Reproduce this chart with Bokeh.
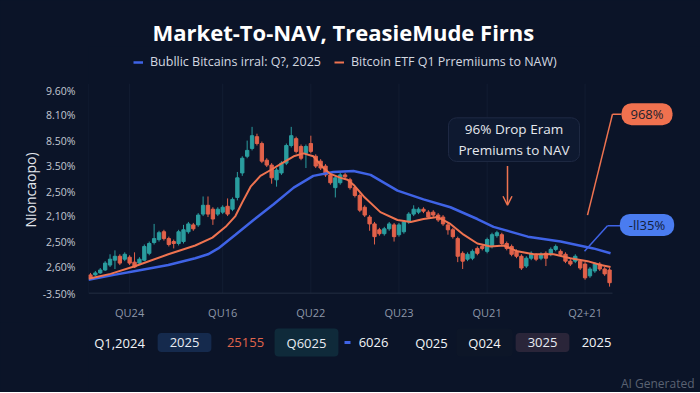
from bokeh.plotting import figure
from bokeh.layouts import column
from bokeh.models import (Range1d, FixedTicker, Label, Arrow, OpenHead, Legend,
                          LegendItem, ColumnDataSource, Title)
from bokeh.embed import file_html
from bokeh.resources import INLINE

# ---------------- data ----------------
opens = [1.9, 1.9, 2.1, 2.4, 2.9, 3.4, 3.8, 3.5, 3.7, 3.2, 3.1, 3.4, 4.1, 5.2, 5.5, 6.3, 5.6, 5.3, 5.1, 5.3,
         6.3, 7.0, 7.0, 8.1, 9.0, 8.6, 8.1, 8.3, 8.9, 8.6, 9.8, 12.3, 14.0, 14.8, 16.0, 15.3, 13.6, 13.1, 11.6, 12.3,
         13.3, 15.1, 15.8, 15.0, 14.3, 15.3, 14.0, 13.5, 13.0, 12.1, 10.8, 11.3, 12.1, 11.6, 10.8, 10.0, 8.8, 7.8, 7.1, 6.5,
         6.1, 6.6, 7.0, 6.0, 6.3, 7.3, 8.1, 8.3, 8.6, 8.3, 8.3, 8.0, 7.8, 7.0, 6.5, 5.6, 4.1, 3.5, 3.6, 4.6,
         4.8, 4.3, 4.8, 5.9, 6.0, 5.1, 4.8, 4.3, 3.8, 2.8, 3.6, 3.9, 3.6, 4.1, 4.0, 4.5, 4.3, 4.0, 3.3, 3.3,
         3.3, 3.0, 1.8, 2.3, 3.0, 2.5, 2.4]
closes = [1.6, 2.1, 2.4, 3.1, 3.5, 3.8, 3.1, 4.0, 3.1, 2.7, 3.5, 4.8, 5.1, 5.6, 6.2, 5.6, 5.0, 5.1, 6.3, 6.5,
          7.1, 6.6, 8.0, 9.0, 8.1, 7.6, 8.6, 8.8, 8.1, 9.6, 11.8, 13.8, 14.6, 16.1, 15.3, 13.5, 13.1, 11.8, 12.6, 13.3,
          15.1, 16.1, 14.5, 13.8, 15.0, 14.5, 13.0, 12.8, 12.1, 11.3, 11.8, 12.1, 11.9, 10.8, 10.0, 8.5, 8.0, 7.1, 5.8, 6.1,
          6.6, 7.1, 5.8, 7.0, 7.3, 8.1, 8.6, 8.6, 8.4, 7.8, 8.0, 7.5, 7.1, 6.5, 5.8, 3.8, 3.3, 4.0, 4.3, 4.1,
          4.6, 5.5, 6.0, 6.2, 5.1, 4.6, 4.0, 3.8, 2.6, 3.6, 4.1, 3.5, 4.0, 3.6, 4.5, 4.8, 4.0, 3.3, 3.0, 3.8,
          2.6, 1.6, 2.5, 3.0, 2.5, 2.0, 1.1]
highs = [2.1, 2.3, 2.6, 3.3, 4.0, 4.4, 4.0, 4.2, 3.9, 4.2, 3.7, 5.0, 5.3, 7.1, 6.4, 6.5, 5.8, 5.5, 6.5, 7.0,
         7.3, 7.2, 8.2, 9.9, 9.9, 8.8, 8.8, 9.0, 9.7, 9.8, 12.4, 14.0, 15.6, 17.0, 16.3, 15.5, 13.8, 13.3, 12.8, 13.5,
         15.3, 17.0, 16.0, 15.2, 15.2, 16.1, 14.2, 13.7, 13.2, 12.3, 12.0, 12.3, 12.3, 11.8, 11.0, 10.2, 9.0, 8.0, 7.3, 6.7,
         6.8, 7.3, 7.2, 7.2, 7.5, 8.3, 9.0, 8.8, 8.8, 8.5, 8.5, 8.2, 8.0, 7.2, 6.7, 5.8, 4.3, 4.2, 4.5, 4.8,
         5.0, 5.7, 6.2, 6.4, 6.2, 5.3, 5.0, 4.5, 4.0, 3.8, 4.3, 4.1, 4.2, 4.3, 4.7, 5.0, 4.5, 4.2, 3.5, 4.0,
         3.5, 3.2, 2.7, 3.2, 3.2, 2.7, 2.6]
lows = [1.4, 1.8, 2.0, 2.3, 2.7, 2.5, 2.9, 3.3, 2.9, 2.6, 2.9, 3.3, 3.9, 5.0, 5.3, 5.4, 4.8, 4.6, 4.9, 5.1,
        6.1, 6.4, 6.8, 7.9, 7.8, 7.0, 7.9, 8.1, 7.9, 8.4, 9.5, 12.0, 13.8, 14.6, 15.1, 13.3, 12.9, 11.2, 10.9, 12.1,
        13.1, 14.9, 14.3, 13.6, 12.8, 14.3, 12.8, 12.6, 11.9, 11.1, 9.8, 11.1, 11.7, 10.6, 9.8, 8.3, 7.8, 6.4, 5.0, 5.9,
        5.9, 6.4, 5.3, 5.8, 6.1, 7.1, 7.9, 8.1, 8.2, 7.6, 7.8, 7.3, 6.9, 6.0, 5.6, 3.2, 2.5, 3.3, 3.4, 3.9,
        4.4, 4.1, 4.6, 5.7, 4.9, 4.4, 3.8, 3.6, 2.4, 2.6, 3.4, 3.3, 3.4, 2.8, 3.8, 4.3, 3.8, 3.1, 2.8, 3.1,
        2.4, 1.4, 1.6, 2.1, 2.3, 1.8, 0.7]

etf_x = [-0.4, 4.1, 9.2, 15.9, 21.4, 24.9, 27.6, 29.6, 31.0, 32.7, 34.7, 36.8, 38.8, 41.5, 43.5, 45.5, 47.6, 49.0,
         51.1, 52.5, 53.7, 55.8, 59.2, 62.7, 65.4, 68.0, 70.9, 73.5, 76.2, 79.0, 81.7, 84.4, 87.2, 90.5, 94.6, 98.0,
         101.5, 104.2, 106.2]
etf_y = [1.5, 2.0, 2.8, 4.0, 4.9, 5.7, 6.8, 7.9, 9.3, 10.9, 12.0, 12.6, 13.2, 14.0, 14.3, 14.0, 12.8, 12.2,
         11.8, 11.6, 11.1, 9.9, 8.3, 7.5, 7.3, 7.6, 7.8, 7.1, 6.0, 5.1, 4.8, 4.9, 4.3, 4.0, 4.0, 3.6,
         3.3, 2.9, 2.7]
public_x = [-0.4, 4.8, 9.2, 15.9, 21.4, 24.0, 26.1, 29.6, 33.3, 37.4, 41.5, 45.5, 49.6, 53.7, 57.2, 62.7, 68.0,
            73.5, 79.0, 82.3, 89.3, 96.0, 102.7, 106.2]
public_y = [1.4, 1.9, 2.3, 2.9, 3.6, 4.0, 4.6, 6.0, 7.5, 9.1, 10.8, 12.0, 12.4, 12.5, 12.1, 10.5, 9.6,
            8.8, 7.6, 6.8, 5.8, 5.3, 4.6, 4.1]

y_tick_values = [0.0, 2.7, 5.3, 7.9, 10.4, 13.0, 15.6, 18.2, 20.7]
y_tick_labels = ["-3.50%", "2,60%", "2,50%", "2,10%", "2,50%", "3.50%", "8.50%", "8.10%", "9.60%"]
x_tick_values = [8, 27, 45, 63, 81, 101]
x_tick_labels = ["QU24", "QU16", "QU22", "QU23", "QU21", "Q2+21"]

period_labels = ["Q1,2024", "2025", "25155", "Q6025", "6026", "Q025", "Q024", "3025", "2025"]

title_text = "Market-To-NAV, TreasieMude Firns"
public_name = "Bubllic Bitcains irral: Q?, 2025"
etf_name = "Bitcoin ETF Q1 Prremiiums to NAW)"
y_title = "Nioncaopo)"
callout_text = "96% Drop Eram\nPremiums to NAV"
etf_badge = "968%"
public_badge = "-ll35%"

# ---------------- style / layout ----------------
BG = "#0b1428"
TEAL = "#2a9d9f"
RED = "#e1614a"
ORANGE = "#ef7350"
BLUE = "#3f63e6"
FONT = "Open Sans"

W = 700
H_MAIN, H_ROW = 322, 70
FL, FR, FT, FB = 88, 612, 46, 298      # data frame (left/right of data, top of panel, axis line) in page px
X0, X1 = -0.4, 106.6                   # data x at FL .. FR


def X(px):
    return X0 + (px - FL) * (X1 - X0) / (FR - FL)


def Y(py):
    return (FB - py) / 10.0


xr = Range1d(X0, X(W))
p = figure(width=W, height=H_MAIN, x_range=xr, y_range=Range1d(Y(FB), Y(FT)),
           output_backend="svg", toolbar_location=None,
           background_fill_color=None, border_fill_color=BG, outline_line_color=None,
           min_border_left=FL, min_border_right=0,
           min_border_top=FT, min_border_bottom=H_MAIN - FB)

# faint grid + axis base line
p.segment(x0=[X(FL)] + x_tick_values, y0=0, x1=[X(FL)] + x_tick_values, y1=Y(84),
          line_color="#131d32", line_width=1)
p.segment(x0=X(FL), y0=0, x1=X(FR), y1=0, line_color="#2b3548", line_width=1.5)

# candles
idx = list(range(len(opens)))
src = ColumnDataSource(dict(
    x=idx,
    top=[max(o, c) for o, c in zip(opens, closes)],
    bottom=[min(o, c) for o, c in zip(opens, closes)],
    high=highs, low=lows,
    color=[TEAL if c >= o else RED for o, c in zip(opens, closes)],
))
p.segment(x0="x", y0="low", x1="x", y1="high", line_color="color", line_width=1, source=src)
p.vbar(x="x", width=0.68, top="top", bottom="bottom", fill_color="color", line_color="color", source=src)

blue_r = p.line(public_x, public_y, line_color=BLUE, line_width=2.5)
orange_r = p.line(etf_x, etf_y, line_color=ORANGE, line_width=2)

# title
p.title.text = title_text
p.title.align = "left"
p.title.offset = 152 - FL
p.title.text_font = FONT
p.title.text_font_size = "22px"
p.title.text_font_style = "bold"
p.title.text_color = "#ffffff"
p.title.standoff = 0

legend = Legend(items=[LegendItem(label=public_name, renderers=[blue_r]),
                       LegendItem(label=etf_name, renderers=[orange_r])],
                orientation="horizontal", location=(45, FB - 75),
                background_fill_alpha=0, border_line_alpha=0,
                label_text_color="#d3d8e0", label_text_font=FONT, label_text_font_size="12.5px",
                glyph_width=10, glyph_height=14, label_height=14, label_standoff=7,
                spacing=13, padding=0, margin=0)
p.add_layout(legend)

# axes
p.xaxis.ticker = FixedTicker(ticks=x_tick_values)
p.xaxis.major_label_overrides = dict(zip(x_tick_values, x_tick_labels))
p.yaxis.ticker = FixedTicker(ticks=y_tick_values)
p.yaxis.major_label_overrides = dict(zip(y_tick_values, y_tick_labels))
for ax in (p.xaxis[0], p.yaxis[0]):
    ax.major_tick_line_color = None
    ax.minor_tick_line_color = None
    ax.axis_line_color = None
    ax.major_label_text_font = FONT
p.xaxis.major_label_text_font_size = "11px"
p.xaxis.major_label_text_color = "#8e97a8"
p.xaxis.major_label_standoff = 5
p.yaxis.major_label_text_font_size = "10.5px"
p.yaxis.major_label_text_color = "#c3c8d2"
p.yaxis.major_label_standoff = 7
p.grid.grid_line_color = None

# y-axis title (placed in the left side panel, next to the tick labels)
p.add_layout(Title(text=y_title, align="left", offset=FB - 232, standoff=0,
                   text_font=FONT, text_font_size="14px", text_font_style="normal",
                   text_color="#e3e6ec"), "left")

# callout box and arrow
p.add_layout(Label(x=X(513.5), y=Y(141), text=callout_text, text_align="center", text_baseline="middle",
                   text_font=FONT, text_font_size="13.5px", text_color="#e5e8ee",
                   background_fill_color="#0e1930", border_line_color="#1f2a44", border_line_width=1,
                   border_radius=8, padding=dict(x=10, y=2)))
p.add_layout(Arrow(end=OpenHead(size=9, line_color=ORANGE, line_width=1.5),
                   x_start=X(507), y_start=Y(168), x_end=X(507), y_end=Y(208),
                   line_color=ORANGE, line_width=1.5))

# leader lines + badges
for (a, b), col in [(((587, 218), (612, 115)), ORANGE), (((612, 115), (621, 115)), ORANGE),
                    (((584, 255), (607, 229)), BLUE), (((607, 229), (621, 229)), BLUE)]:
    p.add_layout(Arrow(end=None, x_start=X(a[0]), y_start=Y(a[1]), x_end=X(b[0]), y_end=Y(b[1]),
                       line_color=col, line_width=1.5))
p.add_layout(Label(x=X(646.5), y=Y(115), text=etf_badge, text_align="center", text_baseline="middle",
                   text_font=FONT, text_font_size="13px", text_color="#1b1f2e",
                   background_fill_color="#f0714f", border_radius=10, padding=dict(x=9, y=2)))
p.add_layout(Label(x=X(646.5), y=Y(228), text=public_badge, text_align="center", text_baseline="middle",
                   text_font=FONT, text_font_size="13px", text_color="#13203d",
                   background_fill_color="#4a7cf0", border_radius=10, padding=dict(x=9, y=2)))

# ---------------- period row (second strip, frame aligned with the chart) ----------------
R0 = H_MAIN
q = figure(width=W, height=H_ROW, x_range=xr, y_range=Range1d(Y(R0 + H_ROW), Y(R0)),
           output_backend="svg", toolbar_location=None, x_axis_location=None, y_axis_location=None,
           background_fill_color=None, border_fill_color=BG, outline_line_color=None,
           min_border_left=FL, min_border_right=0, min_border_top=0, min_border_bottom=0)
q.grid.grid_line_color = None

row_centers = [119, 184, 245, 306, 373, 431, 484, 542, 596]
row_bg = [None, "#152a4d", None, "#0f2a3a", None, None, "#0d1628", "#2a2539", None]
row_fg = ["#f2f4f8", "#e8ecf3", "#e0654c", "#e8ecf3", "#f2f4f8", "#f2f4f8", "#f2f4f8", "#e8ecf3", "#f2f4f8"]
for txt, cx, bg, fg in zip(period_labels, row_centers, row_bg, row_fg):
    kw = dict(background_fill_color=bg, border_radius=4, padding=dict(x=12, y=5)) if bg else {}
    q.add_layout(Label(x=X(cx), y=Y(342), text=txt, text_align="center", text_baseline="middle",
                       text_font=FONT, text_font_size="13px", text_color=fg, **kw))
q.add_layout(Arrow(end=None, x_start=X(344), y_start=Y(342), x_end=X(350), y_end=Y(342),
                   line_color=BLUE, line_width=3))
q.add_layout(Label(x=X(694), y=Y(383), text="AI Generated", text_align="right", text_baseline="middle",
                   text_font=FONT, text_font_size="12px", text_color="#5a6272"))

layout = column(p, q, spacing=0, styles={"background-color": BG})
open("out.html", "w").write(file_html(layout, INLINE))
